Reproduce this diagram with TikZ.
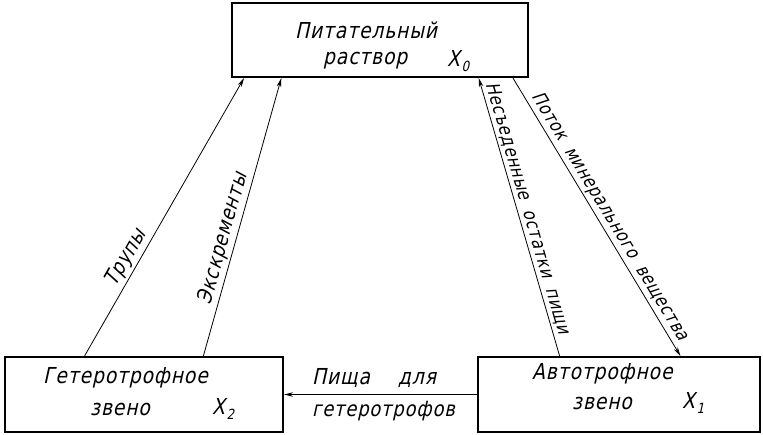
\documentclass[tikz,border=0pt]{standalone}
\usepackage{fontspec}
\usetikzlibrary{calc,arrows.meta}
\newfontfamily\gf[FakeSlant=0.22,FakeStretch=0.85,LetterSpace=4]{DejaVu Sans}
\newcommand{\Xsub}[1]{X\kern1.5pt\raisebox{-5pt}{\fontsize{14}{14}\selectfont #1}}
\newcommand{\gap}{\hspace{11pt}}
\begin{document}
\begin{tikzpicture}[x=1pt,y=-1pt,
  box/.style={draw,line width=2.2pt,inner sep=0pt},
  txt/.style={font=\gf\fontsize{22}{24}\selectfont,inner sep=0pt,anchor=west},
  lab/.style={font=\gf\fontsize{21}{23}\selectfont,inner sep=2pt,sloped,above},
  labr/.style={lab,font=\gf\fontsize{18.5}{20}\selectfont},
  arr/.style={line width=0.8pt,-{Stealth[length=9pt,width=4.5pt]}}]
\useasboundingbox (0,0) rectangle (763,434);
\node[box,minimum width=296pt,minimum height=74pt] (T) at (380,40) {};
\node[box,minimum width=278pt,minimum height=75pt] (L) at (144,394.5) {};
\node[box,minimum width=282pt,minimum height=75pt] (R) at (619,394.5) {};
% texts
\node[txt] (t1) at (295,30) {Питательный};
\node[txt] (t2) at (323,61) {раствор};
\node[txt] (t3) at (447,61) {\Xsub{0}};
\node[txt] (l1) at (43,378) {Гетеротрофное};
\node[txt] (l2) at (90,409) {звено};
\node[txt] (l3) at (212,409) {\Xsub{2}};
\node[txt] (r1) at (532,374) {Автотрофное};
\node[txt] (r2) at (572,403) {звено};
\node[txt] (r3) at (682,403) {\Xsub{1}};
% connectors
\draw[arr] ($(L.north west)!0.288!(L.north east)$) -- ($(T.south west)!0.044!(T.south east)$)
  node[lab,pos=0.33] (a1) {Трупы};
\draw[arr] ($(L.north west)!0.712!(L.north east)$) -- ($(T.south west)!0.169!(T.south east)$)
  node[lab,pos=0.41] (a2) {Экскременты};
\draw[arr] ($(R.north west)!0.291!(R.north east)$) -- ($(T.south west)!0.831!(T.south east)$)
  node[labr,pos=0.52] (a3) {Несъеденные\gap остатки\gap пищи};
\draw[arr] ($(T.south west)!0.946!(T.south east)$) -- ($(R.north west)!0.716!(R.north east)$)
  node[labr,pos=0.52] (a4) {Поток\gap минерального\gap вещества};
\draw[arr] (R.west) -- (L.east);
\node[txt] (h1) at (312,378) {Пища\hspace{28pt}для};
\node[txt,font=\gf\fontsize{21}{23}\selectfont] (h2) at (312,411) {гетеротрофов};
\end{tikzpicture}
\end{document}
